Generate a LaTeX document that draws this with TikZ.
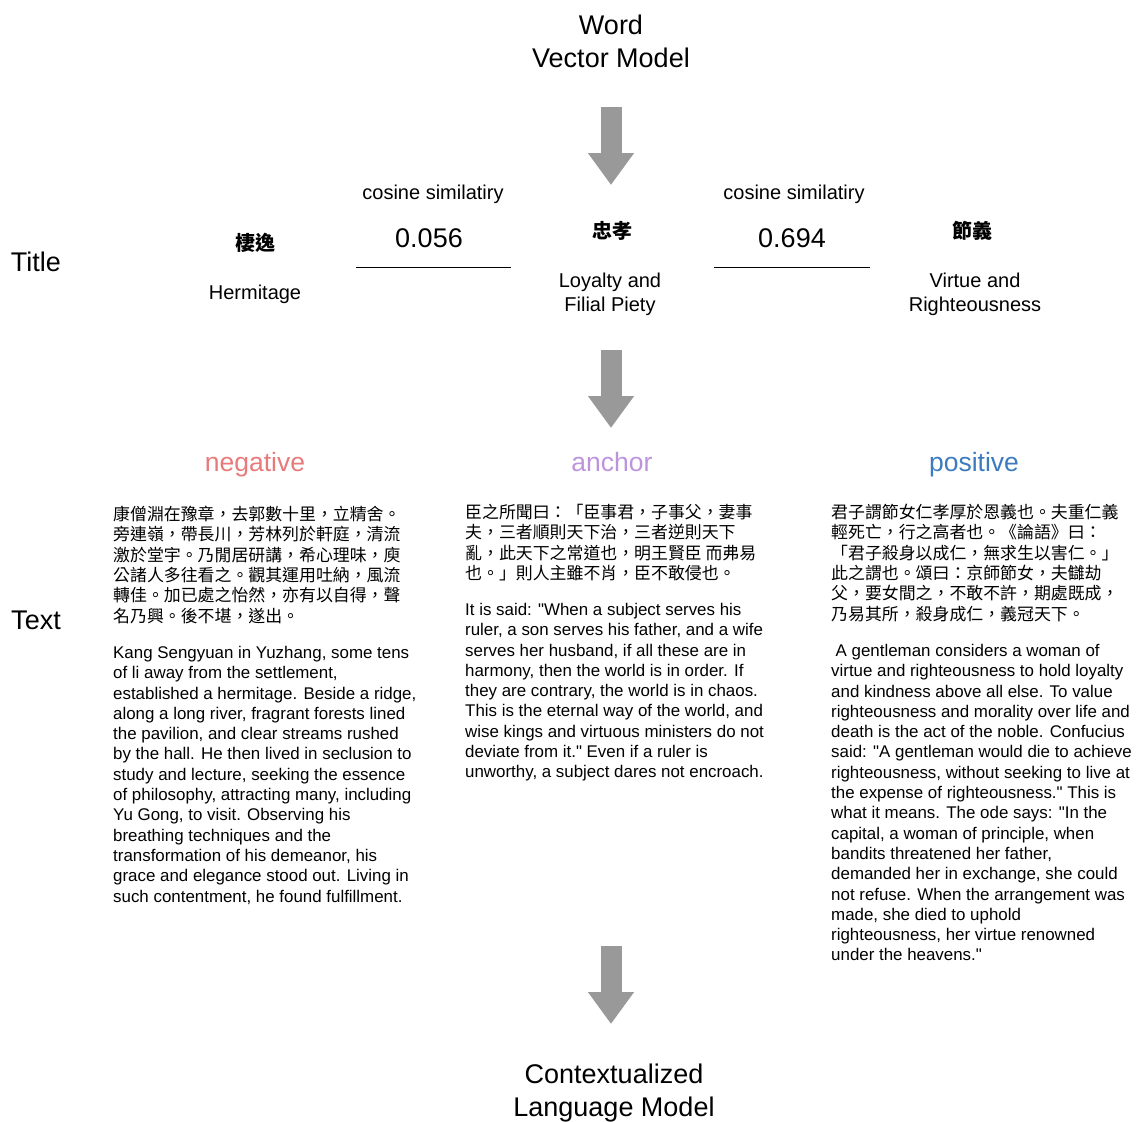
\documentclass[tikz,border=0pt]{standalone}
\usepackage{fontspec}
\setmainfont{Liberation Sans}[Ligatures=TeXOff]
\newfontfamily\cjk{Noto Sans CJK TC}
\usetikzlibrary{arrows.meta}
\definecolor{arrowgray}{HTML}{999999}
\definecolor{negred}{HTML}{E87A7A}
\definecolor{ancpurple}{HTML}{BC94DE}
\definecolor{posblue}{HTML}{3B7BBE}

\begin{document}
\begin{tikzpicture}[x=1pt,y=-1pt,
	model/.style={align=center, font=\fontsize{27}{33}\selectfont},
	rowlabel/.style={font=\fontsize{27}{33}\selectfont},
	simlabel/.style={font=\fontsize{20}{24}\selectfont},
	simval/.style={font=\fontsize{27}{33}\selectfont},
	zhtitle/.style={font=\fontsize{20}{24}\selectfont\cjk\bfseries},
	entitle/.style={align=center, font=\fontsize{20}{24}\selectfont},
	role/.style={anchor=base, font=\fontsize{26.5}{32}\selectfont},
	zhtext/.style={anchor=north west, inner sep=0pt, align=left, font=\fontsize{16.9}{20.3}\selectfont\cjk},
	entext/.style={anchor=north west, inner sep=0pt, align=left, font=\fontsize{16.9}{20.3}\selectfont},
	bigarrow/.style={draw=arrowgray, line width=21pt, -{Triangle[width=44pt,length=32pt]}}]
			\useasboundingbox (0,0) rectangle (1136,1122);
			
			% models and row labels
			\draw (611,41) node[model] (wvm) {Word\\Vector Model}
			(614,1093.5) node[model] (clm) {Contextualized\\Language Model}
			(36,262) node[rowlabel] (ltitle) {Title}
			(36,620) node[rowlabel] (ltext) {Text};
			
			% block arrows
			\coordinate (a1s) at (611,107); \coordinate (a1e) at (611,185);
			\coordinate (a2s) at (611,350); \coordinate (a2e) at (611,428);
			\coordinate (a3s) at (611,946); \coordinate (a3e) at (611,1024);
			\draw[bigarrow] (a1s) -- (a1e);
			\draw[bigarrow] (a2s) -- (a2e);
			\draw[bigarrow] (a3s) -- (a3e);
			
			% titles and similarities
			\draw (255,243) node[zhtitle] (t1) {棲逸}
			(255,294) node[entitle] (e1) {Hermitage}
			(612,231) node[zhtitle] (t2) {忠孝}
			(610,294) node[entitle] (e2) {Loyalty and\\Filial Piety}
			(972,231) node[zhtitle] (t3) {節義}
			(975,294) node[entitle] (e3) {Virtue and\\Righteousness}
			(433,194) node[simlabel] (c1) {cosine similatiry}
			(429,238) node[simval] (s1) {0.056}
			(794,194) node[simlabel] (c2) {cosine similatiry}
			(792,238) node[simval] (s2) {0.694};
			\draw (356,267) -- (511,267);
			\draw (714,267) -- (870,267);
			
			% roles
			\draw (255,471) node[role, text=negred] (neg) {negative}
			(612,471) node[role, text=ancpurple] (anc) {anchor}
			(974,471) node[role, text=posblue] (pos) {positive};
			
			% texts
			\draw (113,506) node[zhtext] (negzh) {康僧淵在豫章，去郭數十里，立精舍。\\旁連嶺，帶長川，芳林列於軒庭，清流\\激於堂宇。乃閒居研講，希心理味，庾\\公諸人多往看之。觀其運用吐納，風流\\轉佳。加已處之怡然，亦有以自得，聲\\名乃興。後不堪，遂出。}
			(113,646) node[entext] (negen) {Kang Sengyuan in Yuzhang, some tens\\of li away from the settlement,\\established a hermitage. Beside a ridge,\\along a long river, fragrant forests lined\\the pavilion, and clear streams rushed\\by the hall. He then lived in seclusion to\\study and lecture, seeking the essence\\of philosophy, attracting many, including\\Yu Gong, to visit. Observing his\\breathing techniques and the\\transformation of his demeanor, his\\grace and elegance stood out. Living in\\such contentment, he found fulfillment.}
			(465,504) node[zhtext] (anczh) {臣之所聞曰：「臣事君，子事父，妻事\\夫，三者順則天下治，三者逆則天下\\亂，此天下之常道也，明王賢臣 而弗易\\也。」則人主雖不肖，臣不敢侵也。}
			(465,603) node[entext] (ancen) {It is said: "When a subject serves his\\ruler, a son serves his father, and a wife\\serves her husband, if all these are in\\harmony, then the world is in order. If\\they are contrary, the world is in chaos.\\This is the eternal way of the world, and\\wise kings and virtuous ministers do not\\deviate from it." Even if a ruler is\\unworthy, a subject dares not encroach.}
			(831,504) node[zhtext] (poszh) {君子謂節女仁孝厚於恩義也。夫重仁義\\輕死亡，行之高者也。《論語》曰：\\「君子殺身以成仁，無求生以害仁。」\\此之謂也。頌曰：京師節女，夫讎劫\\父，要女間之，不敢不許，期處既成，\\乃易其所，殺身成仁，義冠天下。}
			(831,644) node[entext] (posen) {\hspace{4.5pt}A gentleman considers a woman of\\virtue and righteousness to hold loyalty\\and kindness above all else. To value\\righteousness and morality over life and\\death is the act of the noble. Confucius\\said: "A gentleman would die to achieve\\righteousness, without seeking to live at\\the expense of righteousness." This is\\what it means. The ode says: "In the\\capital, a woman of principle, when\\bandits threatened her father,\\demanded her in exchange, she could\\not refuse. When the arrangement was\\made, she died to uphold\\righteousness, her virtue renowned\\under the heavens."};
		\end{tikzpicture}
\end{document}
